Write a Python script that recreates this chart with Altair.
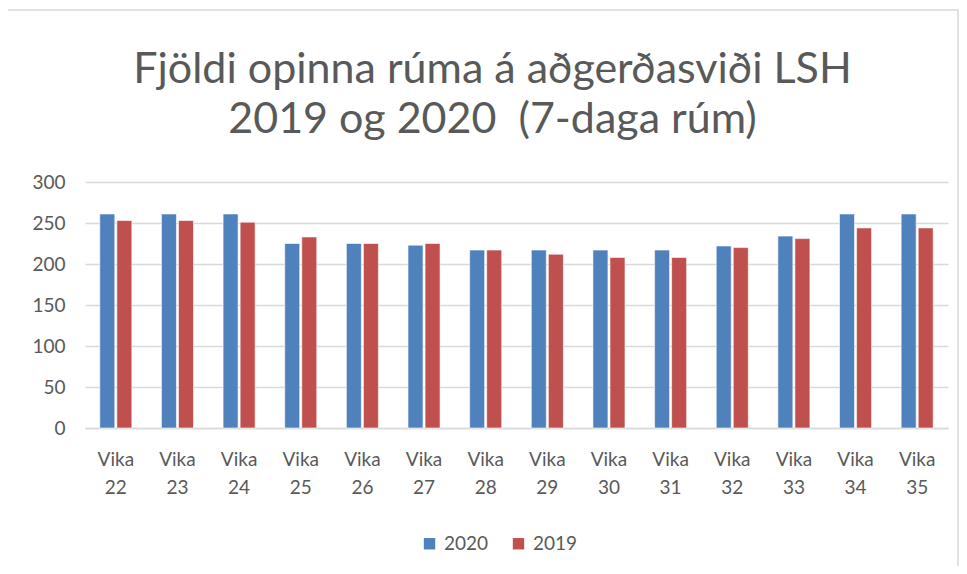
import altair as alt
import pandas as pd

weeks = ["Vika 22", "Vika 23", "Vika 24", "Vika 25", "Vika 26", "Vika 27", "Vika 28",
         "Vika 29", "Vika 30", "Vika 31", "Vika 32", "Vika 33", "Vika 34", "Vika 35"]
beds_2020 = [261, 261, 261, 225, 225, 223, 217, 217, 217, 217, 222, 234, 261, 261]
beds_2019 = [253, 253, 251, 233, 225, 225, 217, 212, 208, 208, 220, 231, 244, 244]
series = ["2020", "2019"]
colors = ["#4F81BD", "#C0504D"]

rows = []
for w, a, b in zip(weeks, beds_2020, beds_2019):
    rows.append({"week": w, "year": "2020", "value": a})
    rows.append({"week": w, "year": "2019", "value": b})
df = pd.DataFrame(rows)

FONT = "Lato"
GREY = "#595959"

bars = alt.Chart(df).mark_bar(stroke="white", strokeWidth=0.6).encode(
    x=alt.X("week:N", sort=weeks, title=None,
            scale=alt.Scale(paddingInner=0.48, paddingOuter=0.24),
            axis=alt.Axis(labelAngle=0, labelExpr="split(datum.label, ' ')",
                          labelFontSize=19, labelColor=GREY, labelFont=FONT,
                          labelPadding=22, labelLineHeight=28, ticks=False,
                          domainColor="#d9d9d9", domainWidth=1.5, labelBaseline="top")),
    xOffset=alt.XOffset("year:N", sort=series, scale=alt.Scale(paddingInner=0.12)),
    y=alt.Y("value:Q", title=None,
            scale=alt.Scale(domain=[0, 300]),
            axis=alt.Axis(values=[0, 50, 100, 150, 200, 250, 300], domain=False, ticks=False,
                          labelFontSize=19, labelColor=GREY, labelFont=FONT, labelPadding=20,
                          gridColor="#d9d9d9", gridWidth=1.5)),
    color=alt.Color("year:N", sort=series,
                    scale=alt.Scale(domain=series, range=colors),
                    legend=alt.Legend(title=None, orient="none", direction="horizontal",
                                      legendX=335, legendY=352, symbolType="square",
                                      symbolSize=130, symbolStrokeWidth=0,
                                      labelFontSize=19, labelColor=GREY, labelFont=FONT,
                                      columnPadding=20, labelOffset=5)),
)

frame = alt.Chart(pd.DataFrame({"f": [0]})).mark_rect(
    fill=None, stroke="#d9d9d9", strokeWidth=1.5
).encode(x=alt.value(-80), x2=alt.value(873), y=alt.value(-172), y2=alt.value(420))

chart = alt.layer(frame, bars).properties(
    width=863, height=246,
    autosize=alt.AutoSizeParams(type="none"),
    padding={"left": 77, "top": 174, "right": 11, "bottom": 138},
    title=alt.Title(["Fjöldi opinna rúma á aðgerðasviði LSH", "2019 og 2020\u00a0\u00a0(7-daga rúm)"],
                    fontSize=43, font=FONT, fontWeight="normal", color=GREY,
                    anchor="middle", frame="group", dx=-24, offset=-133, lineHeight=50),
).configure_view(stroke=None)

chart.save("out.html", embed_options={"renderer": "svg", "actions": False})
